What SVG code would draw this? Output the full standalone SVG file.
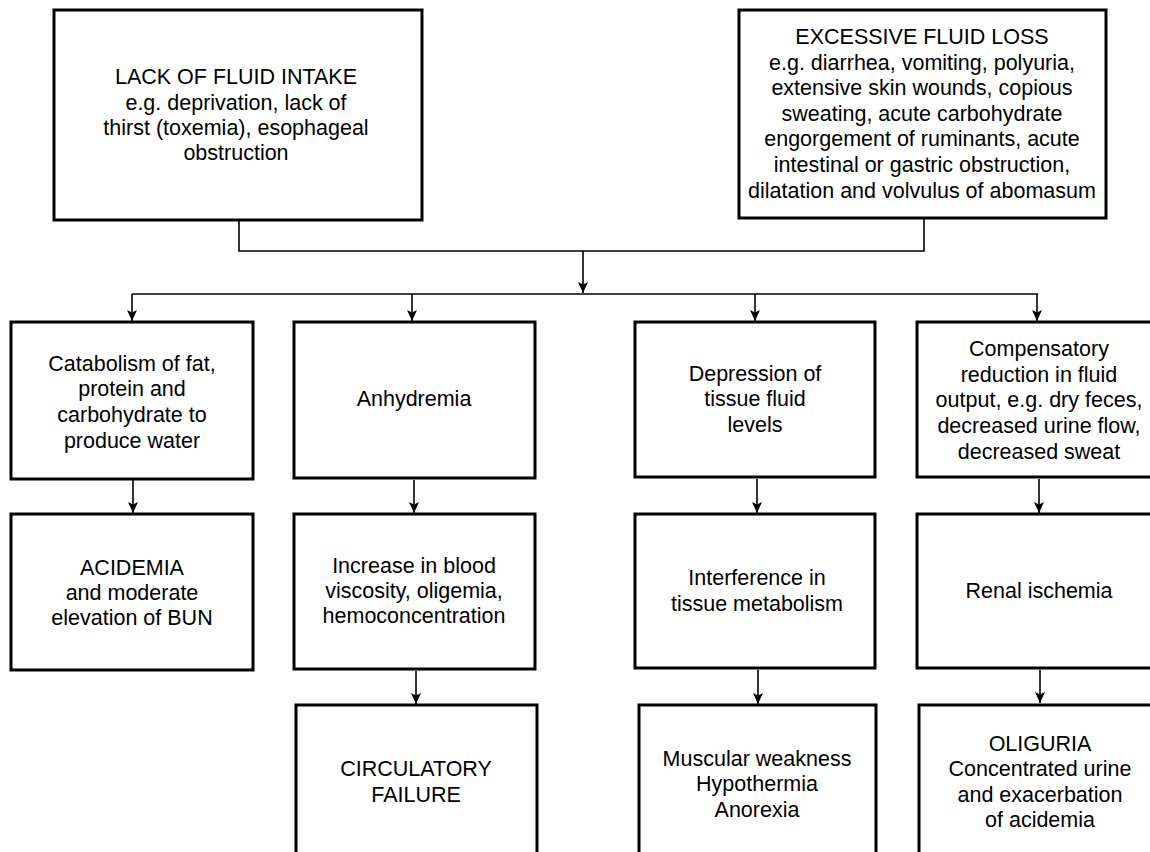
<svg xmlns="http://www.w3.org/2000/svg" width="1150" height="852" viewBox="0 0 1150 852">
<style>
.box{fill:#fff;stroke:#000;stroke-width:3}
.t{font-family:"Liberation Sans",Arial,Helvetica,sans-serif;font-size:21.5px;fill:#000;text-anchor:middle}
.c{fill:none;stroke:#000;stroke-width:1.6}
.a{fill:none;stroke:#000;stroke-width:1.6;marker-end:url(#ah)}
</style>
<defs>
<marker id="ah" markerUnits="userSpaceOnUse" markerWidth="11" markerHeight="10" viewBox="0 0 11 10" refX="11" refY="5" orient="auto">
<path d="M0,0 L11,5 L0,10 L2.5,5 z" fill="#000"/>
</marker>
</defs>
<rect width="1150" height="852" fill="#fff"/>
<g id="connectors">
<path class="c" d="M239,221 V251 H924 V219"/>
<path class="a" d="M583,251 V293"/>
<path class="c" d="M132,294 H1038"/>
<path class="a" d="M132,294 V321"/>
<path class="a" d="M412,294 V321"/>
<path class="a" d="M755,294 V321"/>
<path class="a" d="M1037,294 V321"/>
<path class="a" d="M133,480 V513"/>
<path class="a" d="M414,480 V513"/>
<path class="a" d="M757,479 V513"/>
<path class="a" d="M1039,479 V513"/>
<path class="a" d="M416,671 V704"/>
<path class="a" d="M758,670 V704"/>
<path class="a" d="M1040,670 V703"/>
</g>
<g id="lack">
<rect class="box" x="54" y="10" width="368" height="210"/>
<text class="t" x="236"><tspan x="236" y="84">LACK OF FLUID INTAKE</tspan><tspan x="236" y="110">e.g. deprivation, lack of</tspan><tspan x="236" y="135">thirst (toxemia), esophageal</tspan><tspan x="236" y="160">obstruction</tspan></text>
</g>
<g id="excessive">
<rect class="box" x="739" y="10" width="367" height="208"/>
<text class="t"><tspan x="922" y="44">EXCESSIVE FLUID LOSS</tspan><tspan x="922" y="70">e.g. diarrhea, vomiting, polyuria,</tspan><tspan x="922" y="95">extensive skin wounds, copious</tspan><tspan x="922" y="121">sweating, acute carbohydrate</tspan><tspan x="922" y="146">engorgement of ruminants, acute</tspan><tspan x="922" y="172">intestinal or gastric obstruction,</tspan><tspan x="922" y="198">dilatation and volvulus of abomasum</tspan></text>
</g>
<g id="catabolism">
<rect class="box" x="11" y="322" width="242" height="157"/>
<text class="t"><tspan x="132" y="371">Catabolism of fat,</tspan><tspan x="132" y="396">protein and</tspan><tspan x="132" y="422">carbohydrate to</tspan><tspan x="132" y="448">produce water</tspan></text>
</g>
<g id="anhydremia">
<rect class="box" x="294" y="322" width="241" height="156"/>
<text class="t" x="414" y="406">Anhydremia</text>
</g>
<g id="depression">
<rect class="box" x="635" y="322" width="240" height="155"/>
<text class="t"><tspan x="755" y="381">Depression of</tspan><tspan x="755" y="406">tissue fluid</tspan><tspan x="755" y="432">levels</tspan></text>
</g>
<g id="compensatory">
<rect class="box" x="917" y="322" width="245" height="155"/>
<text class="t"><tspan x="1039" y="356">Compensatory</tspan><tspan x="1039" y="382">reduction in fluid</tspan><tspan x="1039" y="407">output, e.g. dry feces,</tspan><tspan x="1039" y="433">decreased urine flow,</tspan><tspan x="1039" y="459">decreased sweat</tspan></text>
</g>
<g id="acidemia">
<rect class="box" x="11" y="514" width="242" height="156"/>
<text class="t"><tspan x="132" y="575">ACIDEMIA</tspan><tspan x="132" y="600">and moderate</tspan><tspan x="132" y="625">elevation of BUN</tspan></text>
</g>
<g id="viscosity">
<rect class="box" x="294" y="514" width="241" height="155"/>
<text class="t"><tspan x="414" y="573">Increase in blood</tspan><tspan x="414" y="598">viscosity, oligemia,</tspan><tspan x="414" y="623">hemoconcentration</tspan></text>
</g>
<g id="interference">
<rect class="box" x="635" y="514" width="240" height="154"/>
<text class="t"><tspan x="757" y="585">Interference in</tspan><tspan x="757" y="611">tissue metabolism</tspan></text>
</g>
<g id="renal">
<rect class="box" x="917" y="514" width="245" height="154"/>
<text class="t" x="1039" y="598">Renal ischemia</text>
</g>
<g id="circulatory">
<rect class="box" x="296" y="705" width="241" height="170"/>
<text class="t"><tspan x="416" y="776">CIRCULATORY</tspan><tspan x="416" y="802">FAILURE</tspan></text>
</g>
<g id="muscular">
<rect class="box" x="639" y="705" width="237" height="170"/>
<text class="t"><tspan x="757" y="766">Muscular weakness</tspan><tspan x="757" y="791">Hypothermia</tspan><tspan x="757" y="817">Anorexia</tspan></text>
</g>
<g id="oliguria">
<rect class="box" x="919" y="705" width="245" height="170"/>
<text class="t"><tspan x="1040" y="751">OLIGURIA</tspan><tspan x="1040" y="776">Concentrated urine</tspan><tspan x="1040" y="802">and exacerbation</tspan><tspan x="1040" y="827">of acidemia</tspan></text>
</g>
</svg>
